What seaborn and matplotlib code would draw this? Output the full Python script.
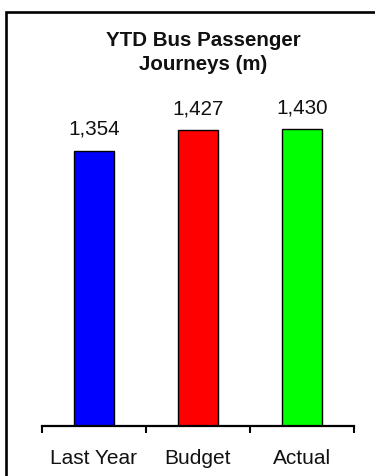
import matplotlib
matplotlib.use("Agg")
import matplotlib.pyplot as plt
from matplotlib.lines import Line2D
import seaborn as sns
import pandas as pd

categories = ["Last Year", "Budget", "Actual"]
values = [1354, 1427, 1430]
bar_colors = ["#0000FF", "#FF0000", "#00FF00"]
title = "YTD Bus Passenger\nJourneys (m)"

sns.set_style("white")
plt.rcParams["font.family"] = ["Liberation Sans", "DejaVu Sans"]

W, H = 375, 477
fig = plt.figure(figsize=(W / 100, H / 100), dpi=100)
ax = fig.add_axes([42 / W, 50.5 / H, 312 / W, 316.2 / H])

df = pd.DataFrame({"category": categories, "value": values})
sns.barplot(data=df, x="category", y="value", hue="category",
            palette=dict(zip(categories, bar_colors)), legend=False,
            width=0.38, edgecolor="black", linewidth=1.0, saturation=1,
            ax=ax)

ax.set_ylim(390, 1500)
ax.set_xlim(-0.5, len(categories) - 0.5)

# value labels above each bar
for i, v in enumerate(values):
    ax.annotate(f"{v:,}", xy=(i, v), xytext=(0, 12.3), textcoords="offset points",
                ha="center", va="baseline", fontsize=14.9, color="#111111")

# tick marks at category boundaries, labels at category centres
ax.set_xticks([x - 0.5 for x in range(len(categories) + 1)])
ax.set_xticklabels([])
ax.set_xticks(list(range(len(categories))), minor=True)
ax.set_xticklabels(categories, minor=True, fontsize=15, color="#111111")
ax.tick_params(axis="x", which="major", direction="out", length=5,
               width=1.5, color="black", bottom=True)
ax.tick_params(axis="x", which="minor", length=0, pad=16.3)
ax.set_yticks([])
ax.set_xlabel("")
ax.set_ylabel("")
for side in ["left", "right", "top"]:
    ax.spines[side].set_visible(False)
ax.spines["bottom"].set_linewidth(1.6)
ax.spines["bottom"].set_color("black")

fig.text(203 / W, 1 - 70.5 / H, title, ha="center", va="baseline",
         fontsize=14.8, fontweight="bold", linespacing=1.36, color="#111111")

# outer frame along the top and left edges
frame = Line2D([6 / W, 6 / W, 1.05], [-0.05, 1 - 13 / H, 1 - 13 / H],
               transform=fig.transFigure, color="black", linewidth=1.9,
               solid_joinstyle="miter", clip_on=False)
fig.add_artist(frame)

fig.savefig("out.png", dpi=100)
